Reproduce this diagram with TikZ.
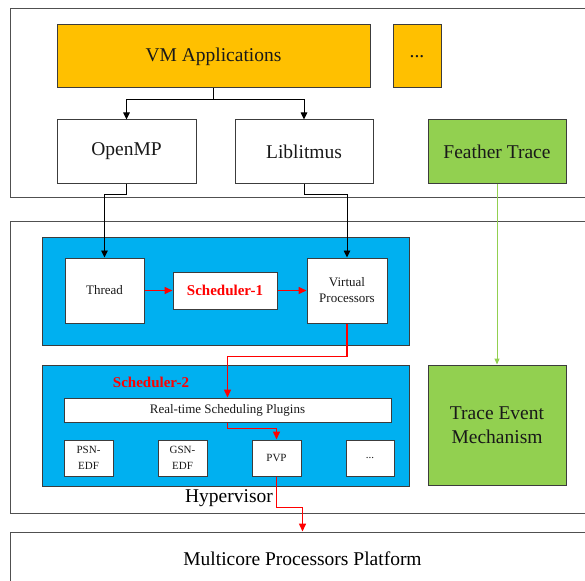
\documentclass[tikz,border=0pt]{standalone}
\usepackage{fontspec}
\setmainfont{Liberation Serif}
\usetikzlibrary{arrows.meta}
\definecolor{vmyellow}{HTML}{FFC000}
\definecolor{fgreen}{HTML}{92D050}
\definecolor{hblue}{HTML}{00B0F0}
\definecolor{bordergray}{HTML}{3C3C3C}
\definecolor{outergray}{HTML}{505050}
\tikzset{
  box/.style={draw=bordergray, line width=1pt, inner sep=0pt, align=center, text=black!90},
  outerbox/.style={draw=outergray, line width=1pt, inner sep=0pt},
  bigtxt/.style={font=\fontsize{19.5}{24}\selectfont},
  midtxt/.style={font=\fontsize{13}{16}\selectfont},
  smalltxt/.style={font=\fontsize{11}{15.5}\selectfont},
  schedtxt/.style={font=\fontsize{15}{17}\selectfont\bfseries, text=red},
  arr/.style={draw=black, line width=0.9pt, -{Triangle[length=7pt,width=6.5pt]}},
  redarr/.style={draw=red, line width=1.5pt, -{Triangle[length=8pt,width=7pt]}},
  greenarr/.style={draw=fgreen, line width=1pt, -{Triangle[length=6pt,width=5pt]}},
}
\begin{document}
\begin{tikzpicture}[x=1pt,y=-1pt]
\useasboundingbox (0,0) rectangle (585,580);
% outer boxes
\node[outerbox, minimum width=585, minimum height=188] (top) at (302.5,103) {};
\node[outerbox, minimum width=585, minimum height=292] (hyp) at (302.5,367) {};
\node[outerbox, minimum width=585, minimum height=54, bigtxt] (multi) at (302.5,559) {Multicore Processors Platform};
% top layer
\node[box, fill=vmyellow, minimum width=313, minimum height=63, bigtxt] (vm) at (213.5,56.5) {VM Applications};
\node[box, fill=vmyellow, minimum width=48, minimum height=63, bigtxt] (dots1) at (417,56.5) {...};
\node[box, fill=white, minimum width=139, minimum height=63, bigtxt] (openmp) at (126.5,151.5) {OpenMP};
\node[box, fill=white, minimum width=138, minimum height=63, bigtxt] (lib) at (304,151.5) {Liblitmus};
\node[box, fill=fgreen, minimum width=138, minimum height=63, bigtxt] (feather) at (497,151.5) {Feather Trace};
% hypervisor layer
\node[box, fill=hblue, minimum width=367, minimum height=108] (blue1) at (225.5,291) {};
\node[box, fill=white, minimum width=79, minimum height=65, midtxt] (thread) at (104.5,290.5) {Thread};
\node[box, fill=white, minimum width=104, minimum height=37, schedtxt] (sched1) at (225,290.5) {Scheduler-1};
\node[box, fill=white, minimum width=80, minimum height=65, midtxt] (vp) at (347,290.5) {Virtual\\Processors};
\node[box, fill=hblue, minimum width=367, minimum height=121] (blue2) at (225.5,425.5) {};
\node[schedtxt, inner sep=0pt] (sched2) at (151,382) {Scheduler-2};
\node[box, fill=white, minimum width=327, minimum height=24, midtxt] (rtsp) at (227.5,410) {Real-time Scheduling Plugins};
\node[box, fill=white, minimum width=49, minimum height=36, smalltxt] (psn) at (88.5,458) {PSN-\\EDF};
\node[box, fill=white, minimum width=49, minimum height=36, smalltxt] (gsn) at (182.5,458) {GSN-\\EDF};
\node[box, fill=white, minimum width=49, minimum height=36, smalltxt] (pvp) at (276.5,458) {PVP};
\node[box, fill=white, minimum width=48, minimum height=36, smalltxt] (dots2) at (370,458) {...};
\node[box, fill=fgreen, minimum width=138, minimum height=120, bigtxt] (trace) at (497,425) {Trace Event\\Mechanism};
\node[bigtxt, inner sep=0pt] (hyplabel) at (229,498) {Hypervisor};
% connectors
\draw[arr] (vm.south) -- ++(0,11) -| (openmp.north);
\draw[arr] (vm.south) -- ++(0,11) -| (lib.north);
\draw[arr] (openmp.south) -- ++(0,11) -| (thread.north);
\draw[arr] (lib.south) -- ++(0,11) -| (vp.north);
\draw[redarr] (thread.east) -- (sched1.west);
\draw[redarr] (sched1.east) -- (vp.west);
\draw[redarr] (vp.south) -- ++(0,33) -| (rtsp.north);
\draw[redarr] (rtsp.south) -- ++(0,6) -| (pvp.north);
\draw[redarr] (pvp.south) -- ++(0,31) -| (multi.north);
\draw[greenarr] (feather.south) -- (trace.north);
\end{tikzpicture}
\end{document}
